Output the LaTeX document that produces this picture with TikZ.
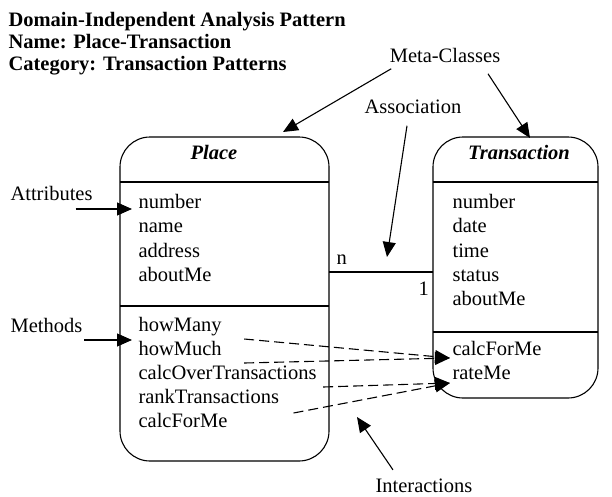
\documentclass[tikz,border=0pt]{standalone}
\usepackage{fontspec}
\setmainfont{Liberation Serif}
\usetikzlibrary{arrows.meta}

\tikzset{
    member/.style={anchor=base west, inner sep=2pt, font=\fontsize{20.5}{24}\selectfont},
    remark/.style={member},
    headline/.style={member, font=\fontsize{20.5}{24}\selectfont\bfseries},
    classname/.style={anchor=base, inner sep=2pt, font=\fontsize{20.5}{24}\selectfont\bfseries\itshape},
    classbox/.style={draw, rounded corners=30pt, inner sep=0pt, outer sep=0pt},
    pointer/.style={-{Triangle[length=15pt,width=13pt]}},
    calls/.style={pointer, dash pattern=on 10pt off 5pt},
}

\begin{document}
\begin{tikzpicture}[x=1pt, y=-1pt, line width=1.1pt]
    \useasboundingbox (0,0) rectangle (612,496);

    % heading
    \node[headline] (h1) at (6,26) {Domain-Independent Analysis Pattern};
    \node[headline] (h2) at (6,48) {Name: Place-Transaction};
    \node[headline] (h3) at (6,70) {Category: Transaction Patterns};

    % the two classes
    \node[classbox, minimum width=209pt, minimum height=324pt] (placebox) at (224.5,299) {};
    \node[classbox, minimum width=165pt, minimum height=261pt] (transbox) at (515.5,267.5) {};
    \draw (placebox.west |- 0,182) -- (placebox.east |- 0,182);
    \draw (placebox.west |- 0,306) -- (placebox.east |- 0,306);
    \draw (transbox.west |- 0,182) -- (transbox.east |- 0,182);
    \draw (transbox.west |- 0,332) -- (transbox.east |- 0,332);
    \node[classname] (placename) at (214,159) {Place};
    \node[classname] (transname) at (519,159) {Transaction};

    % Place members
    \node[member] (pnumber) at (136,208) {number};
    \node[member] (pname) at (136,232.5) {name};
    \node[member] (paddress) at (136,257) {address};
    \node[member] (pabout) at (136,281.5) {aboutMe};
    \node[member] (howmany) at (136,331) {howMany};
    \node[member] (howmuch) at (136,355) {howMuch};
    \node[member] (calcover) at (136,379) {calcOverTransactions};
    \node[member] (rank) at (136,403) {rankTransactions};
    \node[member] (pcalc) at (136,427) {calcForMe};

    % Transaction members
    \node[member] (tnumber) at (450,208) {number};
    \node[member] (tdate) at (450,232) {date};
    \node[member] (ttime) at (450,257) {time};
    \node[member] (tstatus) at (450,281) {status};
    \node[member] (tabout) at (450,305.5) {aboutMe};
    \node[member] (tcalc) at (450,355) {calcForMe};
    \node[member] (trate) at (450,379) {rateMe};

    % association
    \draw (placebox.east |- 0,272) -- (transbox.west |- 0,272);
    \node[member] (many) at (334,264) {n};
    \node[member] (one) at (416,295) {1};

    % interactions
    \draw[calls] ([shift={(20,8)}]howmany.base east) -- ([shift={(0,3)}]tcalc.base west);
    \draw[calls] ([shift={(20,8)}]howmuch.base east) -- ([shift={(0,3)}]tcalc.base west);
    \draw[calls] ([shift={(4,8)}]calcover.base east) -- ([shift={(0,4)}]trate.base west);
    \draw[calls] ([shift={(12,10)}]rank.base east) -- ([shift={(0,4)}]trate.base west);

    % remarks
    \node[remark, anchor=base] (meta) at (445,62) {Meta-Classes};
    \node[remark, anchor=base] (assoc) at (413,113) {Association};
    \node[remark] (attr) at (8,200) {Attributes};
    \node[remark] (meth) at (8,332) {Methods};
    \node[remark] (inter) at (373,492) {Interactions};

    \coordinate (placetip) at (283,132);
    \coordinate (transtip) at (530,138);
    \coordinate (assoctip) at (387,257);
    \coordinate (attrtip) at (132,209);
    \coordinate (methtip) at (132,340);
    \coordinate (intertip) at (357,417);

    \draw[pointer] ([shift={(4,4)}]meta.south west) -- (placetip);
    \draw[pointer] ([shift={(43,9)}]meta.south) -- (transtip);
    \draw[pointer] ([shift={(-6,10)}]assoc.south) -- (assoctip);
    \draw[pointer] (attrtip -| attr.south) ++(24,0) -- (attrtip);
    \draw[pointer] (methtip -| meth.south) ++(38,0) -- (methtip);
    \draw[pointer] ([shift={(20,-6)}]inter.north west) -- (intertip);
\end{tikzpicture}
\end{document}
